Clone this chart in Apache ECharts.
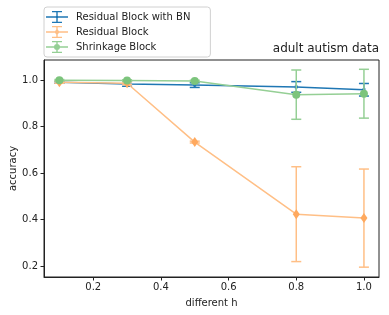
<!DOCTYPE html>
<html><head><meta charset="utf-8">
<script src="https://cdn.jsdelivr.net/npm/echarts@6/dist/echarts.min.js"></script>
<style>html,body{margin:0;padding:0;background:#fff}#c{width:389px;height:315px}</style>
</head><body><div id="c"></div>
<script>
const hValues = [0.1, 0.3, 0.5, 0.8, 1.0];
const seriesNames = ['Residual Block with BN', 'Residual Block', 'Shrinkage Block'];
const bnMean = [0.990, 0.983, 0.978, 0.970, 0.958];
const bnErr  = [0.004, 0.010, 0.010, 0.023, 0.027];
const resMean = [0.990, 0.986, 0.733, 0.423, 0.406];
const resErr  = [0.004, 0.006, 0.004, 0.204, 0.211];
const shrMean = [0.999, 0.998, 0.996, 0.937, 0.941];
const shrErr  = [0.003, 0.003, 0.003, 0.106, 0.105];
const xTicks = [0.2, 0.4, 0.6, 0.8, 1.0];
const yTicks = [0.2, 0.4, 0.6, 0.8, 1.0];

const colors = ['#1f77b4', '#ffbf86', '#95cf95'];
const FONT = 'DejaVu Sans';

function pts(mean){ return hValues.map((h,i)=>[h, mean[i]]); }
function errs(mean, err){ return hValues.map((h,i)=>[h, mean[i]-err[i], mean[i]+err[i]]); }

function errSeries(mean, err, color, z){
  return {
    type:'custom', z:z, silent:true,
    data: errs(mean, err),
    encode:{x:0, y:[1,2]},
    renderItem: function(params, api){
      const x = api.value(0), lo = api.value(1), hi = api.value(2);
      const p1 = api.coord([x, hi]), p2 = api.coord([x, lo]);
      const hw = 5, st = {stroke: color, lineWidth: 1.5};
      return {type:'group', children:[
        {type:'line', shape:{x1:p1[0], y1:p1[1], x2:p2[0], y2:p2[1]}, style:st},
        {type:'line', shape:{x1:p1[0]-hw, y1:p1[1], x2:p1[0]+hw, y2:p1[1]}, style:st},
        {type:'line', shape:{x1:p2[0]-hw, y1:p2[1], x2:p2[0]+hw, y2:p2[1]}, style:st}
      ]};
    }
  };
}

const base = 'M0,5.3 h22 v1.4 h-22 Z M10.3,0 h1.4 v12 h-1.4 Z M6,0 h10 v1.3 h-10 Z M6,10.7 h10 v1.3 h-10 Z';
const iconBN = 'path://' + base + ' M10,5 h2 v2 h-2 Z';
const iconRes = 'path://' + base + ' M11,2.5 L13.5,6 L11,9.5 L8.5,6 Z';
const iconShr = 'path://' + base + ' M11,3 A3,3 0 1 1 10.99,3 Z';

const chart = echarts.init(document.getElementById('c'), null, {renderer:'canvas'});
chart.setOption({
  animation:false,
  textStyle:{fontFamily:FONT},
  title:{text:'adult autism data', right:10, top:43, padding:0,
    textStyle:{fontFamily:FONT, fontSize:12, fontWeight:'normal', color:'#222'}},
  legend:{
    orient:'vertical', left:44, top:7,
    itemWidth:22, itemHeight:12, itemGap:3,
    padding:[4,20,4,2],
    borderColor:'#d0d0d0', borderWidth:1, borderRadius:3,
    textStyle:{fontFamily:FONT, fontSize:10, color:'#222', padding:[0,0,0,3]},
    data:[
      {name:seriesNames[0], icon:iconBN, itemStyle:{color:colors[0]}},
      {name:seriesNames[1], icon:iconRes, itemStyle:{color:colors[1]}},
      {name:seriesNames[2], icon:iconShr, itemStyle:{color:colors[2]}}
    ]
  },
  grid:{left:44, right:10, top:60, bottom:38, show:true, borderColor:'#222', borderWidth:1,
    backgroundColor:'transparent', containLabel:false, outerBoundsMode:'none'},
  xAxis:{
    type:'value', min:0.0545, max:1.0445,
    name:'different h', nameLocation:'middle', nameGap:21, nameMoveOverlap:false,
    nameTextStyle:{fontFamily:FONT, fontSize:10, color:'#222'},
    axisLine:{show:true, onZero:false, lineStyle:{color:'#222'}},
    axisTick:{show:true, length:3.5, lineStyle:{color:'#222'}, customValues:xTicks},
    axisLabel:{fontFamily:FONT, fontSize:10, color:'#222', margin:5, customValues:xTicks,
      formatter:v=>v.toFixed(1)},
    splitLine:{show:false}
  },
  yAxis:{
    type:'value', min:0.1527, max:1.086,
    name:'accuracy', nameLocation:'middle', nameGap:26, nameMoveOverlap:false,
    nameTextStyle:{fontFamily:FONT, fontSize:10, color:'#222'},
    axisLine:{show:true, onZero:false, lineStyle:{color:'#222'}},
    axisTick:{show:true, length:3.5, lineStyle:{color:'#222'}, customValues:yTicks},
    axisLabel:{fontFamily:FONT, fontSize:10, color:'#222', margin:6, customValues:yTicks,
      formatter:v=>v.toFixed(1)},
    splitLine:{show:false}
  },
  series:[
    errSeries(bnMean, bnErr, colors[0], 2),
    {name:seriesNames[0], type:'line', z:3, data:pts(bnMean), symbol:'rect', symbolSize:3,
      lineStyle:{color:colors[0], width:1.5}, itemStyle:{color:colors[0]}},
    errSeries(resMean, resErr, colors[1], 4),
    {name:seriesNames[1], type:'line', z:5, data:pts(resMean), symbol:'diamond', symbolSize:[7,10],
      lineStyle:{color:colors[1], width:1.5}, itemStyle:{color:'#ffa95e'}},
    errSeries(shrMean, shrErr, colors[2], 6),
    {name:seriesNames[2], type:'line', z:7, data:pts(shrMean), symbol:'circle', symbolSize:8,
      lineStyle:{color:colors[2], width:1.5}, itemStyle:{color:'#7cc47c'}}
  ]
});
</script></body></html>
